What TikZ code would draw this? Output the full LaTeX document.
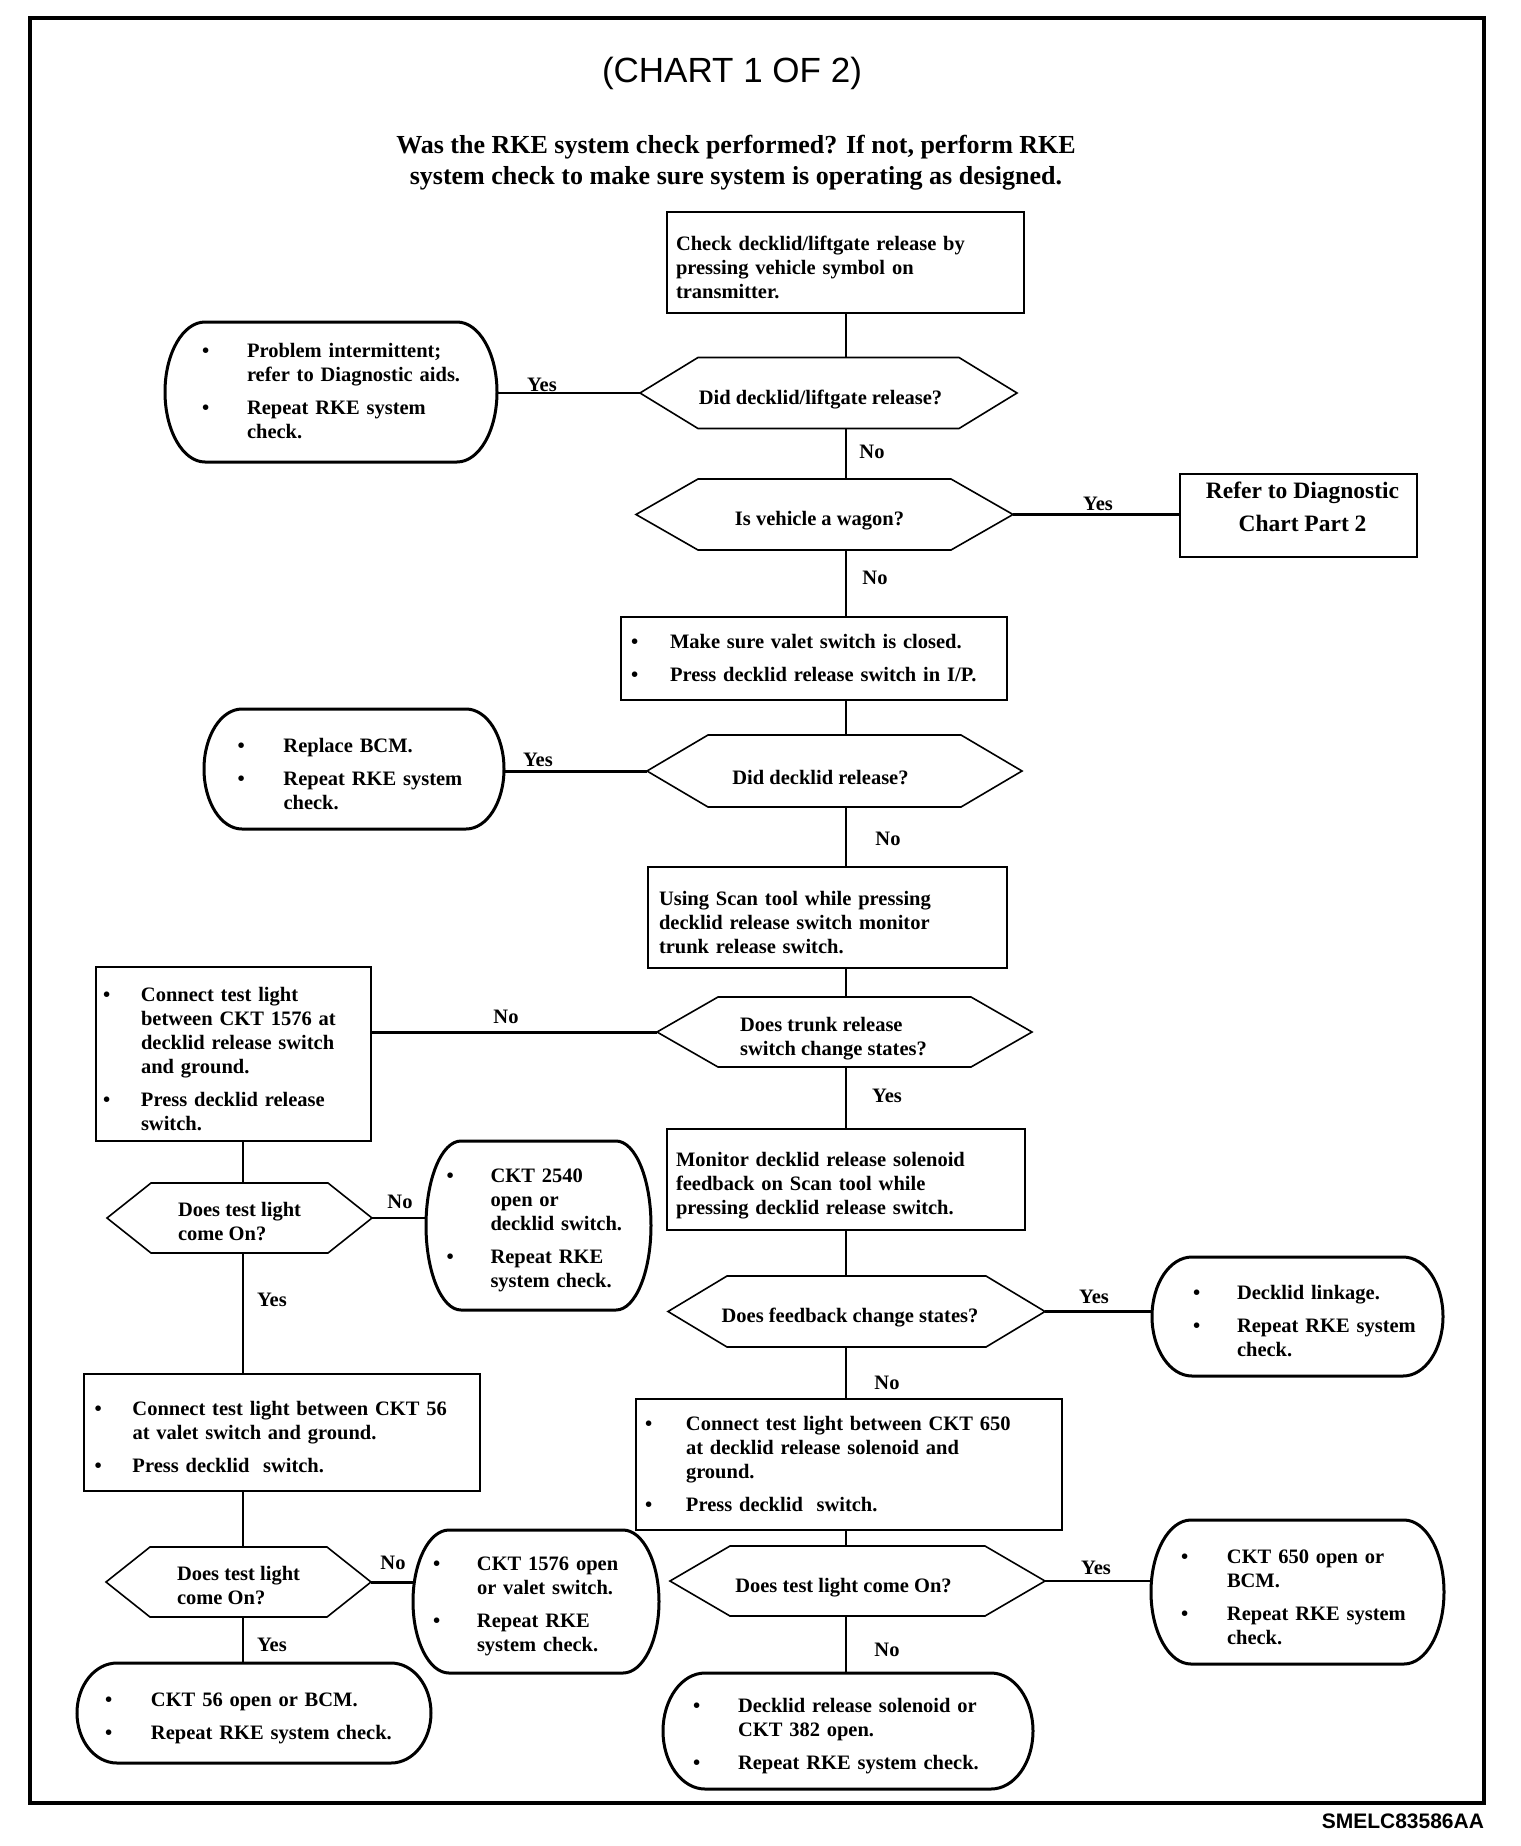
\documentclass[tikz,border=0pt]{standalone}
\usepackage{fontspec}
\setmainfont{Liberation Serif}
\setsansfont{Liberation Sans}
\usetikzlibrary{calc}
\newlength\bw
\newlength\bg
\setlength\bg{9pt}
\newcommand\lin[1]{\mbox{#1}}
\newcommand\bi[1]{\par\noindent\hangindent=\bw\hangafter=1\makebox[\bw][l]{\textbullet}#1\par}
\newcommand\bj[1]{\vspace{\bg}\bi{#1}}
\newcommand\hs{\rule{0pt}{27pt}}
\newcommand\hsl{\rule{0pt}{21pt}}
\newcommand\hexa[2]{\draw[hexline] (#1.west) -- ([xshift=#2pt]#1.north west) -- ([xshift=-#2pt]#1.north east) -- (#1.east) -- ([xshift=-#2pt]#1.south east) -- ([xshift=#2pt]#1.south west) -- cycle;}
\newcommand\stad[2]{\draw[stadline] let \p1=($(#1.north)-(#1.south)$), \n1={0.5*\y1} in ([xshift=#2pt]#1.north west) -- ([xshift=-#2pt]#1.north east) arc[start angle=90,end angle=-90,x radius=#2pt,y radius=\n1] -- ([xshift=#2pt]#1.south west) arc[start angle=270,end angle=90,x radius=#2pt,y radius=\n1] -- cycle;}
\tikzset{
  every node/.style={inner sep=0pt, outer sep=0pt},
  body/.style={font=\fontsize{20.5}{24}\selectfont\bfseries},
  bul/.style={body, font=\fontsize{20.5}{24}\selectfont\bfseries\setlength\bw{#1}},
  box/.style={draw, line width=1.6pt, rectangle, align=left},
  hexn/.style={body, align=left},
  stadn/.style={align=left},
  lab/.style={body},
  thinl/.style={line width=1.6pt},
  thickl/.style={line width=3pt},
  hexline/.style={line width=1.6pt, line join=miter},
  stadline/.style={line width=3pt},
  frame/.style={line width=3.5pt}
}
\begin{document}
\begin{tikzpicture}[x=1pt,y=-1pt]
\useasboundingbox (0,0) rectangle (1520,1846);
\draw[frame] (30,18) rectangle (1484,1803);

\node (title) at (732,73) {\sffamily\fontsize{35}{40}\selectfont (CHART 1 OF 2)};
\node[align=center, font=\fontsize{26}{31}\selectfont\bfseries] (intro) at (736,163)
  {Was the RKE system check performed? If not, perform RKE\\system check to make sure system is operating as designed.};
\node[anchor=east, font=\sffamily\fontsize{21}{24}\selectfont\bfseries] (code) at (1484,1821) {SMELC83586AA};

\coordinate (tr) at (846,0);
\coordinate (tl) at (243,0);

% main column
\node[box, body, minimum width=357, minimum height=101, text width=339] (b1) at (845.5,262.5)
  {\rule{0pt}{25pt}Check decklid/liftgate release by\\pressing vehicle symbol on\\transmitter.};
\node[hexn, minimum width=377, minimum height=71] (h1) at (828.5,393) {\hs Did decklid/liftgate release?\kern16pt};
\node[hexn, minimum width=377, minimum height=71] (h2) at (824.5,514.5) {\hs Is vehicle a wagon?\kern10pt};
\node[box, align=center, font=\fontsize{23.5}{33}\selectfont\bfseries, minimum width=237, minimum height=83] (b6) at (1298.5,515.5)
  {\kern8pt Refer to Diagnostic\\\kern8pt Chart Part 2\rule[-18pt]{0pt}{1pt}};
\node[box, bul=39pt, minimum width=386, minimum height=83, text width=366] (b8) at (814,658.5)
  {\bi{\lin{Make sure valet switch is closed.}}\bj{\lin{Press decklid release switch in I/P.}\rule[-12pt]{0pt}{1pt}}};
\node[hexn, minimum width=375, minimum height=72] (h3) at (834.5,771) {\hs Did decklid release?\kern28pt};
\node[box, body, minimum width=359, minimum height=101, text width=337] (b12) at (827.5,917.5)
  {\rule{0pt}{23.5pt}Using Scan tool while pressing\\decklid release switch monitor\\trunk release switch.};
\node[hexn, minimum width=375, minimum height=70] (h4) at (844.5,1032) {\hs Does trunk release\\switch change states?\kern22pt};
\node[box, body, minimum width=358, minimum height=101, text width=340] (b16) at (846,1179.5)
  {\rule{0pt}{27pt}Monitor decklid release solenoid\\feedback on Scan tool while\\pressing decklid release switch.};
\node[hexn, minimum width=377, minimum height=71] (h6) at (856.5,1311.5) {\hs Does feedback change states?\kern13pt};
\node[box, bul=41pt, minimum width=426, minimum height=131, text width=408] (b24) at (849,1464.5)
  {\bi{\lin{Connect test light between CKT 650}\newline\lin{at decklid release solenoid and}\newline\lin{ground.}}\bj{\lin{Press decklid\ \ switch.}\rule[-12pt]{0pt}{1pt}}};
\node[hexn, minimum width=375, minimum height=70] (h8) at (857.5,1581) {\hs Does test light come On?\kern28pt};

% left side
\node[stadn, bul=45pt, minimum width=332, minimum height=140, text width=258] (s3) at (331,392)
  {\bi{\lin{Problem intermittent;}\newline\lin{refer to Diagnostic aids.}}\bj{\lin{Repeat RKE system}\newline\lin{check.}\rule[-12pt]{0pt}{1pt}}};
\node[stadn, bul=46pt, minimum width=300, minimum height=120, text width=233] (s10) at (354,769)
  {\bi{\lin{Replace BCM.}}\bj{\lin{Repeat RKE system}\newline\lin{check.}}};
\node[box, bul=38pt, minimum width=275, minimum height=174, text width=261] (b14) at (233.5,1054)
  {\bi{\lin{Connect test light}\newline\lin{between CKT 1576 at}\newline\lin{decklid release switch}\newline\lin{and ground.}}\bj{\lin{Press decklid release}\newline\lin{switch.}}};
\node[hexn, minimum width=265, minimum height=70] (h5) at (239.5,1218) {\hsl Does test light\\come On?};
\node[stadn, bul=44pt, minimum width=225, minimum height=169, text width=184] (s18) at (538.5,1225.5)
  {\bi{\rule{0pt}{24pt}\lin{CKT 2540}\newline\lin{open or}\newline\lin{decklid switch.}}\bj{\lin{Repeat RKE}\newline\lin{system check.}}};
\node[box, bul=38pt, minimum width=396, minimum height=117, text width=375] (b23) at (282,1432.5)
  {\bi{\lin{Connect test light between CKT 56}\newline\lin{at valet switch and ground.}}\bj{\lin{Press decklid\ \ switch.}}};
\node[hexn, minimum width=265, minimum height=70] (h7) at (238.5,1582) {\hsl Does test light\\come On?};
\node[stadn, bul=44pt, minimum width=246, minimum height=143, text width=206] (s26) at (536,1601.5)
  {\bi{\rule{0pt}{24pt}\lin{CKT 1576 open}\newline\lin{or valet switch.}}\bj{\lin{Repeat RKE}\newline\lin{system check.}}};
\node[stadn, bul=46pt, minimum width=354, minimum height=100, text width=298] (s28) at (254,1713)
  {\bi{\lin{CKT 56 open or BCM.}}\bj{\lin{Repeat RKE system check.}}};

% right side
\node[stadn, bul=44pt, minimum width=291, minimum height=119, text width=209] (s21) at (1297.5,1316.5)
  {\bi{\lin{Decklid linkage.}}\bj{\lin{Repeat RKE system}\newline\lin{check.}}};
\node[stadn, bul=46pt, minimum width=293, minimum height=144, text width=233] (s30) at (1297.5,1592)
  {\bi{\lin{CKT 650 open or}\newline\lin{BCM.}}\bj{\lin{Repeat RKE system}\newline\lin{check.}}};
\node[stadn, bul=45pt, minimum width=370, minimum height=116, text width=310] (s32) at (848,1731)
  {\bi{\rule{0pt}{20pt}\lin{Decklid release solenoid or}\newline\lin{CKT 382 open.}}\bj{\lin{Repeat RKE system check.}}};

% shapes
\hexa{h1}{58} \hexa{h2}{62} \hexa{h3}{61} \hexa{h4}{61} \hexa{h6}{59} \hexa{h8}{60}
\hexa{h5}{44} \hexa{h7}{44}
\stad{s3}{40} \stad{s10}{38} \stad{s18}{35} \stad{s26}{36} \stad{s28}{40}
\stad{s21}{40} \stad{s30}{40} \stad{s32}{42}

% main trunk
\draw[thinl] (b1.south -| tr) -- (h1.north -| tr);
\draw[thinl] (h1.south -| tr) -- (h2.north -| tr);
\draw[thinl] (h2.south -| tr) -- (b8.north -| tr);
\draw[thinl] (b8.south -| tr) -- (h3.north -| tr);
\draw[thinl] (h3.south -| tr) -- (b12.north -| tr);
\draw[thinl] (b12.south -| tr) -- (h4.north -| tr);
\draw[thinl] (h4.south -| tr) -- (b16.north -| tr);
\draw[thinl] (b16.south -| tr) -- (h6.north -| tr);
\draw[thinl] (h6.south -| tr) -- (b24.north -| tr);
\draw[thinl] (b24.south -| tr) -- (h8.north -| tr);
\draw[thinl] (h8.south -| tr) -- (s32.north -| tr);
% left trunk
\draw[thinl] (b14.south -| tl) -- (h5.north -| tl);
\draw[thinl] (h5.south -| tl) -- (b23.north -| tl);
\draw[thinl] (b23.south -| tl) -- (h7.north -| tl);
\draw[thinl] (h7.south -| tl) -- (s28.north -| tl);
% branches
\draw[thinl] (h1.west) -- (h1.west -| s3.east);
\draw[thickl] (h2.east) -- (h2.east -| b6.west);
\draw[thickl] (h3.west) -- (h3.west -| s10.east);
\draw[thickl] (h4.west) -- (h4.west -| b14.east);
\draw[thinl] (h5.east) -- (h5.east -| s18.west);
\draw[thickl] (h6.east) -- (h6.east -| s21.west);
\draw[thickl] (h7.east) -- (h7.east -| s26.west);
\draw[thinl] (h8.east) -- (h8.east -| s30.west);

% labels
\node[lab] (l1) at (542,385) {Yes};
\node[lab] (l2) at (872,452) {No};
\node[lab] (l3) at (1098,504) {Yes};
\node[lab] (l4) at (875,578) {No};
\node[lab] (l5) at (538,760) {Yes};
\node[lab] (l6) at (888,839) {No};
\node[lab] (l7) at (506,1017) {No};
\node[lab] (l8) at (887,1096) {Yes};
\node[lab] (l9) at (400,1202) {No};
\node[lab] (l10) at (272,1300) {Yes};
\node[lab] (l11) at (1094,1297) {Yes};
\node[lab] (l12) at (887,1383) {No};
\node[lab] (l13) at (393,1563) {No};
\node[lab] (l14) at (272,1645) {Yes};
\node[lab] (l15) at (1096,1568) {Yes};
\node[lab] (l16) at (887,1650) {No};
\end{tikzpicture}
\end{document}
